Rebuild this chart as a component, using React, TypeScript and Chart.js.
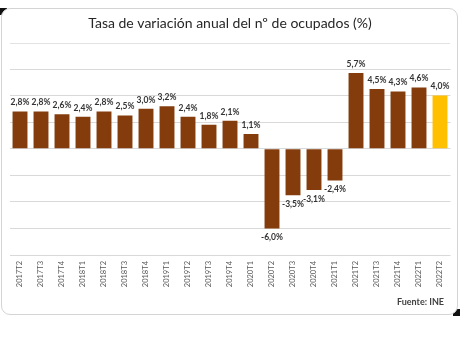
import React, { useEffect, useRef } from "react";
import { Chart, registerables } from "chart.js";

Chart.register(...registerables);

const categories = [
  "2017T2", "2017T3", "2017T4", "2018T1", "2018T2", "2018T3", "2018T4",
  "2019T1", "2019T2", "2019T3", "2019T4", "2020T1", "2020T2", "2020T3",
  "2020T4", "2021T1", "2021T2", "2021T3", "2021T4", "2022T1", "2022T2",
];
const values = [
  2.8, 2.8, 2.6, 2.4, 2.8, 2.5, 3.0, 3.2, 2.4, 1.8, 2.1, 1.1, -6.0, -3.5,
  -3.1, -2.4, 5.7, 4.5, 4.3, 4.6, 4.0,
];
const highlightIndex = 20;
const yMin = -8;
const yMax = 6;
const yStep = 2;
const titleText = "Tasa de variación anual del nº de ocupados (%)";
const sourceText = "Fuente: INE";

const BROWN = "#843C0C";
const YELLOW = "#FFC000";

const fmt = (v: number) => v.toFixed(1).replace(".", ",") + "%";

const decorPlugin = {
  id: "decor",
  afterDraw(chart: any) {
    const ctx = chart.ctx as CanvasRenderingContext2D;
    ctx.save();
    // title
    ctx.fillStyle = "#262626";
    ctx.font = "14px Lato, 'Open Sans', sans-serif";
    ctx.textAlign = "center";
    ctx.textBaseline = "middle";
    ctx.fillText(titleText, 230, 23);
    // separator
    ctx.strokeStyle = "#e2e2e2";
    ctx.lineWidth = 1;
    ctx.beginPath();
    ctx.moveTo(10, 43.5);
    ctx.lineTo(450, 43.5);
    ctx.stroke();
    // source
    ctx.fillStyle = "#404040";
    ctx.font = "bold 9px Lato, 'Open Sans', sans-serif";
    ctx.textAlign = "right";
    ctx.fillText(sourceText, 444, 302);
    // data labels
    const meta = chart.getDatasetMeta(0);
    ctx.font = "bold 8.5px Lato, 'Open Sans', sans-serif";
    ctx.fillStyle = "#333333";
    ctx.textAlign = "center";
    meta.data.forEach((bar: any, i: number) => {
      const v = values[i];
      const y = v >= 0 ? bar.y - 9 : bar.y + 9;
      ctx.fillText(fmt(v), bar.x, y);
    });
    ctx.restore();
  },
};

export default function App() {
  const ref = useRef<HTMLCanvasElement | null>(null);
  useEffect(() => {
    if (!ref.current) return;
    const chart = new Chart(ref.current, {
      type: "bar",
      data: {
        labels: categories,
        datasets: [
          {
            data: values,
            backgroundColor: values.map((_, i) => (i === highlightIndex ? YELLOW : BROWN)),
            borderWidth: 0,
            categoryPercentage: 1,
            barPercentage: 0.71,
          },
        ],
      },
      options: {
        animation: false,
        responsive: false,
        devicePixelRatio: 1,
        layout: { padding: { top: 69, left: 9.5, right: 9.5, bottom: 0 } },
        plugins: { legend: { display: false }, tooltip: { enabled: false } },
        scales: {
          x: {
            grid: { display: false, drawTicks: false },
            border: { display: false },
            ticks: {
              color: "#595959",
              font: { size: 7.5, family: "Lato, 'Open Sans', sans-serif" },
              maxRotation: 90,
              minRotation: 90,
              padding: 6,
              autoSkip: false,
            },
            afterFit: (s: any) => {
              s.height = 85;
            },
          },
          y: {
            min: yMin,
            max: yMax,
            ticks: { display: false, stepSize: yStep },
            grid: { color: "#d9d9d9", lineWidth: 1, drawTicks: false },
            border: { display: false },
            afterFit: (s: any) => {
              s.width = 0;
            },
          },
        },
      },
      plugins: [decorPlugin],
    });
    return () => chart.destroy();
  }, []);

  return (
    <div style={{ position: "fixed", left: 0, top: 0, width: 460, height: 340, background: "#fff" }}>
      <div style={{ position: "absolute", left: 0, top: 8, width: 7, height: 7, background: "#111" }} />
      <div style={{ position: "absolute", left: 453, top: 309, width: 7, height: 7, background: "#111" }} />
      <div
        style={{
          position: "absolute",
          left: 1,
          top: 8,
          width: 455,
          height: 305,
          border: "1px solid #d4d4d4",
          borderRadius: 9,
          background: "#fff",
        }}
      />
      <canvas
        ref={ref}
        width={460}
        height={340}
        style={{ position: "absolute", left: 0, top: 0, width: 460, height: 340 }}
      />
    </div>
  );
}
